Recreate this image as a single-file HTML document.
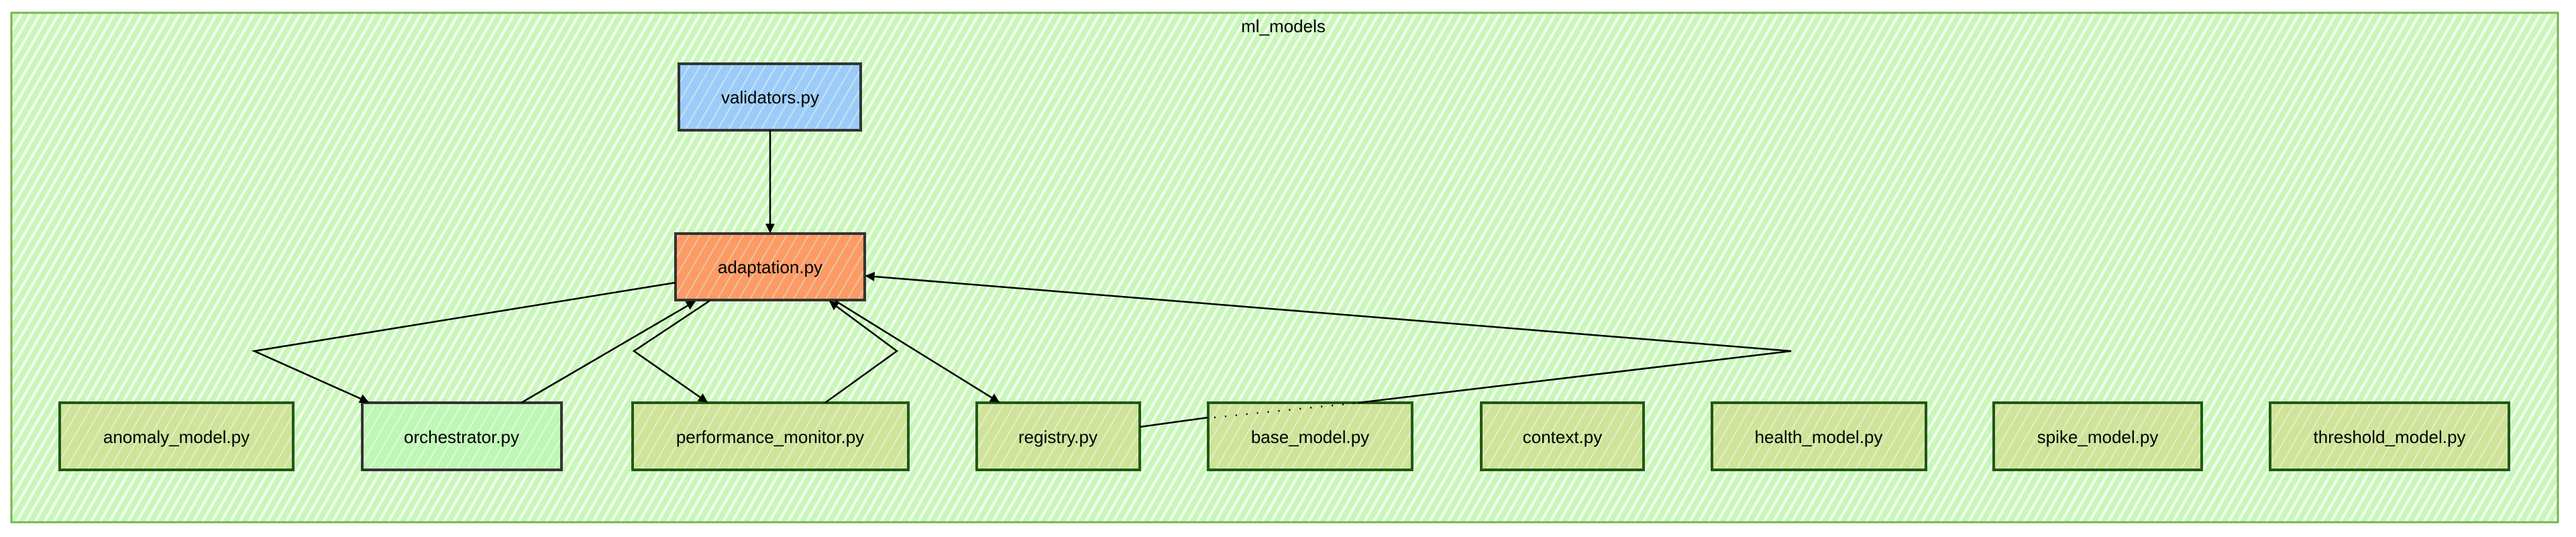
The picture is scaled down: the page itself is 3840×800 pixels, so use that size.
<!DOCTYPE html>
<html><head><meta charset="utf-8"><style>
html,body{margin:0;padding:0;background:#fff;}
svg{display:block;}
text{font-family:"Liberation Sans",sans-serif;font-size:26px;fill:#000;}
</style></head><body>
<svg width="3840" height="800" viewBox="0 0 3840 800" xmlns="http://www.w3.org/2000/svg">
<defs>
<pattern id="hg" width="12" height="12" patternUnits="userSpaceOnUse" patternTransform="rotate(30)">
<rect width="12" height="12" fill="#c8f7b8"/><rect width="4" height="12" fill="#f2fff0"/>
</pattern>
<pattern id="hn" width="14" height="14" patternUnits="userSpaceOnUse" patternTransform="rotate(30)">
<rect width="14" height="14" fill="#cfe39a"/><rect width="2" height="14" fill="#e2f0c4"/>
</pattern>
<pattern id="ho" width="14" height="14" patternUnits="userSpaceOnUse" patternTransform="rotate(30)">
<rect width="14" height="14" fill="#bff7b6"/><rect width="2" height="14" fill="#dcffd6"/>
</pattern>
<pattern id="hb" width="14" height="14" patternUnits="userSpaceOnUse" patternTransform="rotate(30)">
<rect width="14" height="14" fill="#9dcbf9"/><rect width="2" height="14" fill="#c4e4f0"/>
</pattern>
<pattern id="hr" width="14" height="14" patternUnits="userSpaceOnUse" patternTransform="rotate(30)">
<rect width="14" height="14" fill="#fd9a66"/><rect width="2" height="14" fill="#e8c79a"/>
</pattern>
<marker id="ar" viewBox="0 0 10 10" refX="9" refY="5" markerWidth="16" markerHeight="14" orient="auto-start-reverse" markerUnits="userSpaceOnUse">
<path d="M0,0 L10,5 L0,10 z" fill="#000"/>
</marker>
</defs>
<rect x="17" y="19" width="3796" height="759" fill="url(#hg)" stroke="#78b450" stroke-width="3"/>
<text x="1913" y="48" text-anchor="middle" fill="#333">ml_models</text>

<g stroke="#1f5a14" stroke-width="4">
<rect x="1012" y="95" width="271" height="99" fill="url(#hb)" stroke="#333"/>
<rect x="1007" y="348" width="282" height="99" fill="url(#hr)" stroke="#333"/>
<rect x="89" y="600" width="348" height="100" fill="url(#hn)"/>
<rect x="540" y="600" width="297" height="100" fill="url(#ho)" stroke="#333"/>
<rect x="943" y="600" width="411" height="100" fill="url(#hn)"/>
<rect x="1456" y="600" width="243" height="100" fill="url(#hn)"/>
<rect x="1801" y="600" width="304" height="100" fill="url(#hn)"/>
<rect x="2208" y="600" width="242" height="100" fill="url(#hn)"/>
<rect x="2552" y="600" width="319" height="100" fill="url(#hn)"/>
<rect x="2972" y="600" width="310" height="100" fill="url(#hn)"/>
<rect x="3384" y="600" width="356" height="100" fill="url(#hn)"/>
</g>

<g fill="none" stroke="#000" stroke-width="2.5">
<path d="M1148,194 L1148,346" marker-end="url(#ar)"/>
<path d="M1007,421 L379,523 L549,599" marker-end="url(#ar)"/>
<path d="M777,600 L1036,449" marker-end="url(#ar)"/>
<path d="M1058,448 L945,523 L1054,599" marker-end="url(#ar)"/>
<path d="M1230,600 L1337,523 L1237,449" marker-end="url(#ar)"/>
<path d="M1245,448 L1489,599" marker-end="url(#ar)"/>
<path d="M1699,636 L1801,622"/>
<path d="M1810,622 L2025,600" stroke-dasharray="2,14"/>
<path d="M2025,600 L2670,523 L1291,411" marker-end="url(#ar)"/>
</g>

<text x="263" y="660" text-anchor="middle">anomaly_model.py</text>
<text x="688" y="660" text-anchor="middle">orchestrator.py</text>
<text x="1148" y="660" text-anchor="middle">performance_monitor.py</text>
<text x="1577" y="660" text-anchor="middle">registry.py</text>
<text x="1953" y="660" text-anchor="middle">base_model.py</text>
<text x="2329" y="660" text-anchor="middle">context.py</text>
<text x="2711" y="660" text-anchor="middle">health_model.py</text>
<text x="3127" y="660" text-anchor="middle">spike_model.py</text>
<text x="3562" y="660" text-anchor="middle">threshold_model.py</text>
<text x="1148" y="154" text-anchor="middle">validators.py</text>
<text x="1148" y="407" text-anchor="middle">adaptation.py</text>
</svg>
</body></html>
